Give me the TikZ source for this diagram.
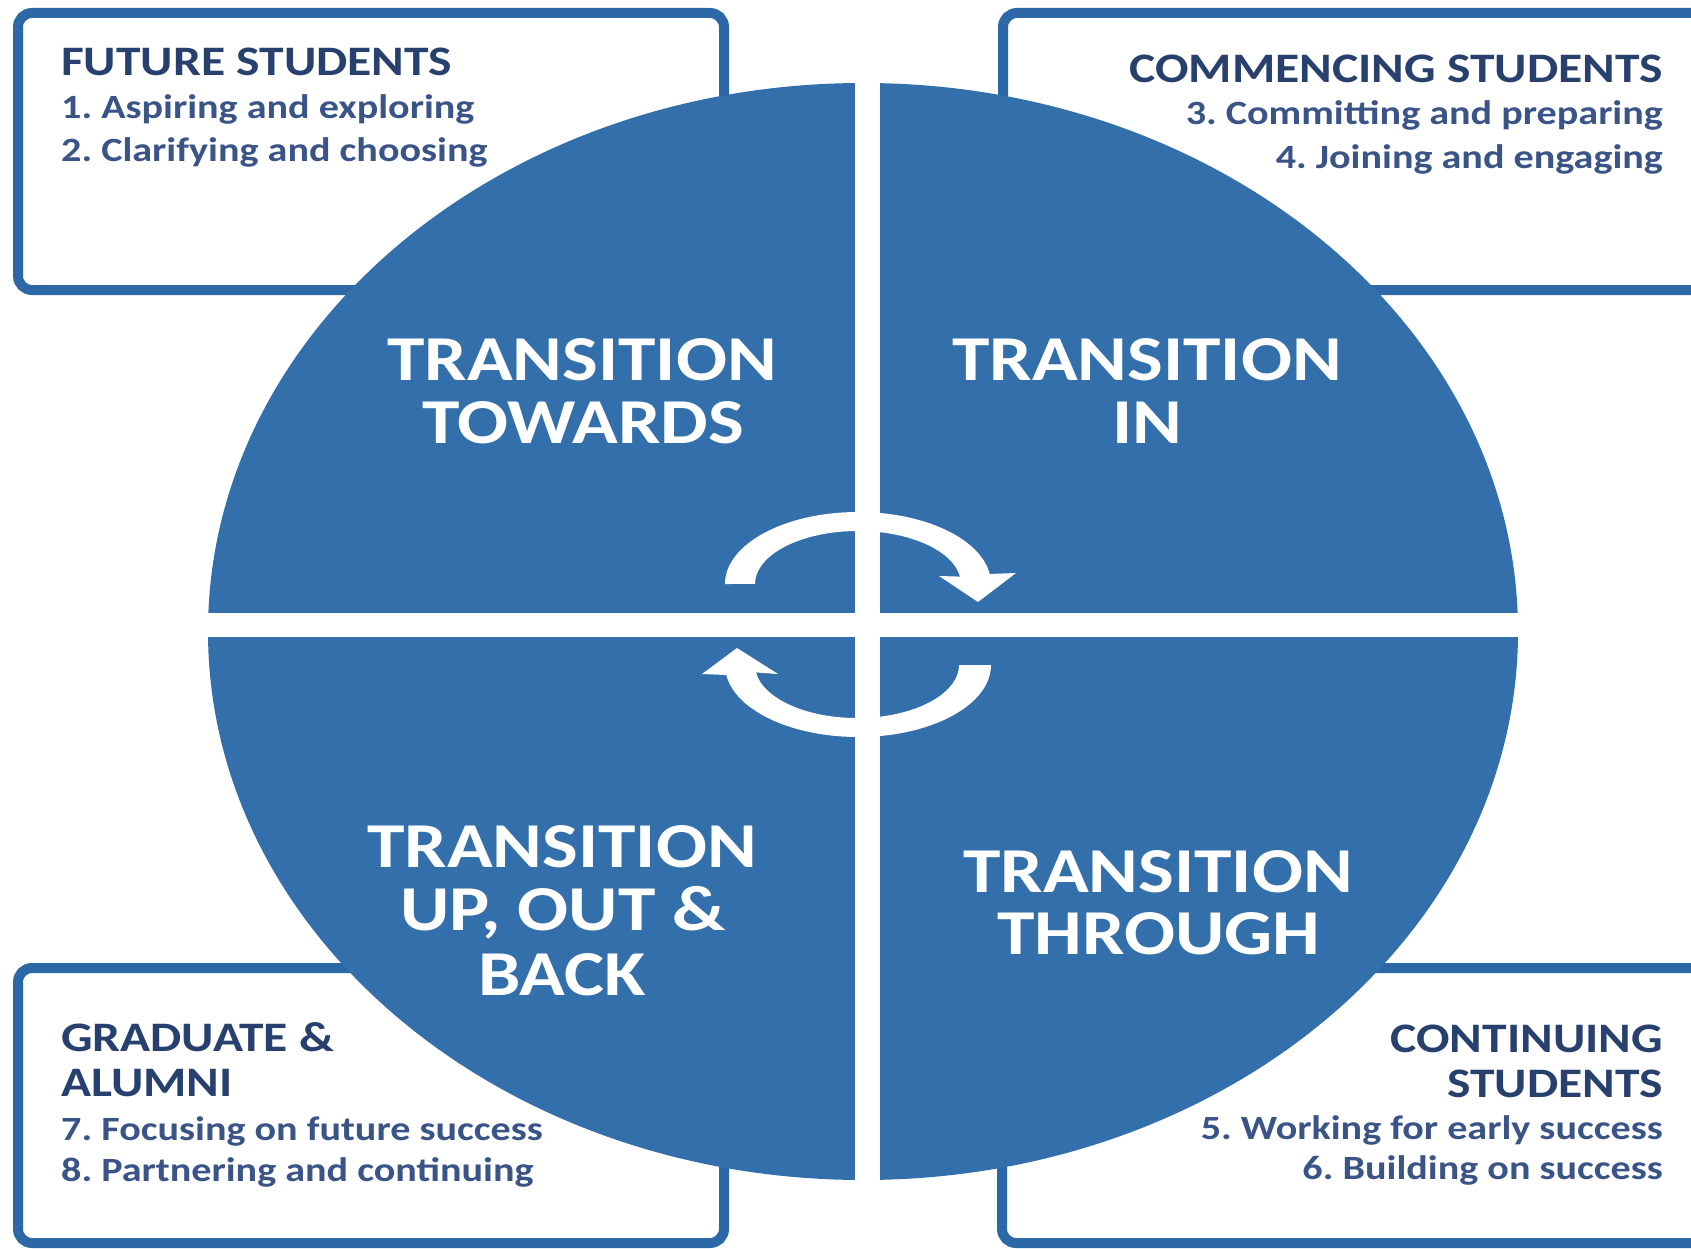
\documentclass[tikz,border=0pt]{standalone}
\usepackage{fontspec}
\setmainfont{Carlito}[FakeStretch=1.18]
\usepackage{tikz}
\usepackage{xcolor}
\frenchspacing

\definecolor{discBlue}{RGB}{50,111,171}
\definecolor{frameBlue}{RGB}{44,104,166}
\definecolor{headInk}{RGB}{40,64,110}
\definecolor{itemInk}{RGB}{58,84,136}

\begin{document}
\begin{tikzpicture}[x=1pt,y=1pt,yscale=-1,xscale=1,
  stagebox/.style={draw=frameBlue,line width=10,fill=white,rounded corners=14},
  heading/.style={font=\fontsize{42}{42}\selectfont\bfseries,text=headInk,inner sep=0},
  stepitem/.style={font=\fontsize{34}{34}\selectfont\bfseries,text=itemInk,inner sep=0},
  phase/.style={font=\fontsize{64}{64}\selectfont\bfseries,text=white,inner sep=0}]
\useasboundingbox (0,0) rectangle (1691,1249);
\clip (0,0) rectangle (1691,1249);

%Shape: Rectangle [future students]
\draw [stagebox] (18,13) rectangle (724,290);
%Shape: Rectangle [commencing students]
\draw [stagebox] (1003,13) rectangle (1730,290);
%Shape: Rectangle [graduate and alumni]
\draw [stagebox] (18,968) rectangle (724,1243);
%Shape: Rectangle [continuing students]
\draw [stagebox] (1002,968) rectangle (1730,1243);

%Shape: Ellipse [disc]
\fill [discBlue] (863,631.5) ellipse [x radius=655,y radius=548.5];
%Shape: Cross [gaps]
\fill [white] (855,60) rectangle (880,1200);
\fill [white] (190,613) rectangle (1540,637);

%Shape: Arc arrow [upper]
\fill [white] (725,584) arc [start angle=180,end angle=352,x radius=133,y radius=72]
  -- (1016,573) -- (978,602) -- (939,576)
  -- (960,576.6) arc [start angle=352,end angle=180,x radius=103,y radius=53] -- cycle;
%Shape: Arc arrow [lower]
\fill [white] (991,665) arc [start angle=0,end angle=172,x radius=133,y radius=72]
  -- (702,674) -- (737,648) -- (778,674)
  -- (756,672.4) arc [start angle=172,end angle=0,x radius=102,y radius=53] -- cycle;

% Text Node
\node [heading,anchor=base west] (fsHead) at (61,76) {FUTURE STUDENTS};
\node [stepitem,anchor=base west] (fsOne) at (61,119) {1. Aspiring and exploring};
\node [stepitem,anchor=base west] (fsTwo) at (61,162) {2. Clarifying and choosing};
% Text Node
\node [heading,anchor=base east] (csHead) at (1663,83) {COMMENCING STUDENTS};
\node [stepitem,anchor=base east] (csThree) at (1663,125) {3. Committing and preparing};
\node [stepitem,anchor=base east] (csFour) at (1663,169) {4. Joining and engaging};
% Text Node
\node [heading,anchor=base west] (gaHead) at (61,1051) {GRADUATE \&};
\node [heading,anchor=base west] (gaHeadB) at (61,1096) {ALUMNI};
\node [stepitem,anchor=base west] (gaSeven) at (61,1140) {7. Focusing on future success};
\node [stepitem,anchor=base west] (gaEight) at (61,1181) {8. Partnering and continuing};
% Text Node
\node [heading,anchor=base east] (ctHead) at (1663,1052) {CONTINUING};
\node [heading,anchor=base east] (ctHeadB) at (1663,1097) {STUDENTS};
\node [stepitem,anchor=base east] (ctFive) at (1663,1139) {5. Working for early success};
\node [stepitem,anchor=base east] (ctSix) at (1663,1179) {6. Building on success};

% Text Node
\node [phase,anchor=base] (towA) at (582,380) {TRANSITION};
\node [phase,anchor=base] (towB) at (583,443) {TOWARDS};
% Text Node
\node [phase,anchor=base] (inA) at (1147,380) {TRANSITION};
\node [phase,anchor=base] (inB) at (1147,443) {IN};
% Text Node
\node [phase,anchor=base] (upA) at (562,867) {TRANSITION};
\node [phase,anchor=base] (upB) at (563,930) {UP, OUT \&};
\node [phase,anchor=base] (upC) at (562,995) {BACK};
% Text Node
\node [phase,anchor=base] (thA) at (1158,892) {TRANSITION};
\node [phase,anchor=base] (thB) at (1159,954) {THROUGH};

\end{tikzpicture}
\end{document}
